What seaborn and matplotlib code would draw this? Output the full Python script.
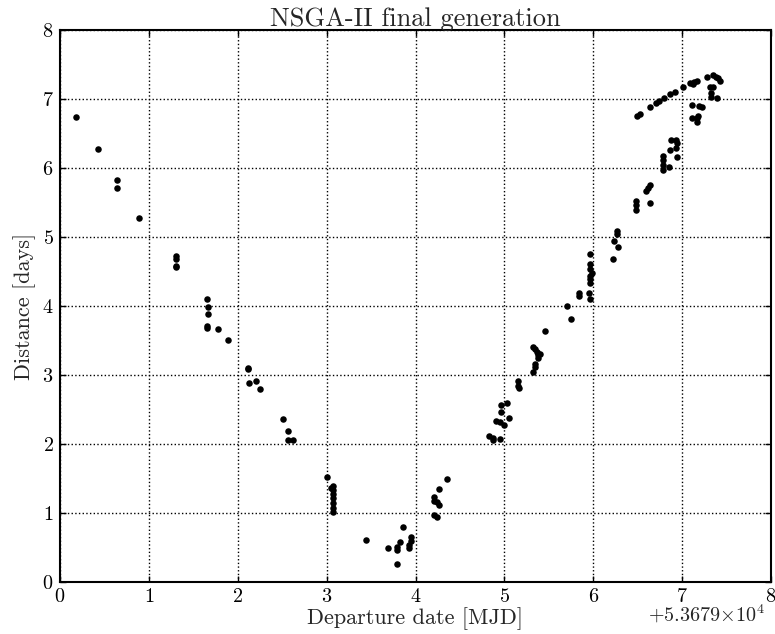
import matplotlib
matplotlib.use("Agg")
import matplotlib.pyplot as plt
import seaborn as sns
import pandas as pd
import numpy as np

# Departure date offset (MJD) and relative departure dates
date_offset = 53679.0
departure = [
    0.176, 0.424, 0.637, 0.637, 0.892, 1.308, 1.308, 1.308, 1.308,
    1.650, 1.668, 1.668, 1.654, 1.654, 1.780, 1.890,
    2.118, 2.118, 2.130, 2.200, 2.250, 2.508, 2.568, 2.568, 2.625,
    3.003, 3.048, 3.075, 3.075, 3.075, 3.075, 3.075, 3.075, 3.075,
    3.438, 3.690, 3.787, 3.787, 3.825, 3.787, 3.855, 3.926, 3.926, 3.945, 3.945,
    4.203, 4.203, 4.245, 4.266, 4.266, 4.353, 4.203, 4.245,
    4.829, 4.867, 4.867, 4.953, 4.904, 4.949, 4.994, 4.964, 4.960, 5.024, 5.050,
    5.155, 5.148, 5.170, 5.317, 5.343, 5.362, 5.403, 5.373, 5.373, 5.339, 5.339, 5.317,
    5.452, 5.710, 5.752, 5.842, 5.842,
    5.962, 5.958, 5.962, 5.988, 5.962, 5.962, 5.962, 5.950, 5.962,
    6.217, 6.235, 6.269, 6.269, 6.273, 6.479, 6.479, 6.479, 6.637,
    6.595, 6.618, 6.637,
    6.786, 6.786, 6.786, 6.786, 6.854, 6.862, 6.873, 6.929, 6.937, 6.929, 6.937,
    6.487, 6.524, 6.637, 6.704, 6.738, 6.794, 6.862, 6.918, 7.011,
    7.087, 7.132, 7.169, 7.124,
    7.281, 7.349, 7.379, 7.405, 7.424, 7.311, 7.342, 7.323, 7.323, 7.398,
    7.109, 7.191, 7.229, 7.184, 7.169, 7.109, 7.162,
]
distance = [
    6.735, 6.275, 5.820, 5.715, 5.270, 4.730, 4.686, 4.585, 4.570,
    4.106, 3.986, 3.880, 3.706, 3.680, 3.667, 3.507,
    3.106, 3.082, 2.884, 2.908, 2.800, 2.367, 2.188, 2.063, 2.063,
    1.522, 1.357, 1.396, 1.333, 1.275, 1.213, 1.149, 1.068, 1.019,
    0.604, 0.493, 0.512, 0.464, 0.575, 0.265, 0.793, 0.536, 0.488, 0.648, 0.599,
    1.237, 1.178, 1.164, 1.116, 1.348, 1.497, 0.966, 0.937,
    2.116, 2.083, 2.058, 2.068, 2.329, 2.319, 2.280, 2.468, 2.570, 2.594, 2.372,
    2.913, 2.840, 2.807, 3.410, 3.372, 3.338, 3.300, 3.242, 3.290, 3.164, 3.120, 3.043,
    3.642, 4.000, 3.812, 4.184, 4.145,
    4.754, 4.609, 4.532, 4.483, 4.435, 4.387, 4.338, 4.193, 4.097,
    4.681, 4.946, 5.043, 5.092, 4.860, 5.527, 5.464, 5.391, 5.488,
    5.671, 5.714, 5.758,
    6.174, 6.116, 6.043, 5.971, 6.010, 6.261, 6.406, 6.406, 6.367, 6.285, 6.164,
    6.754, 6.783, 6.879, 6.946, 6.971, 7.014, 7.072, 7.106, 7.178,
    7.228, 7.246, 7.265, 7.217,
    7.323, 7.348, 7.323, 7.300, 7.265, 7.178, 7.170, 7.082, 7.033, 7.019,
    6.909, 6.899, 6.889, 6.754, 6.729, 6.720, 6.667,
]

title = "NSGA-II final generation"
xlabel = "Departure date [MJD]"
ylabel = "Distance [days]"

sns.set_style("ticks")
plt.rcParams["font.family"] = ["cmr10", "DejaVu Serif"]
plt.rcParams["mathtext.fontset"] = "cm"
plt.rcParams["axes.formatter.use_mathtext"] = True
plt.rcParams["axes.unicode_minus"] = False

df = pd.DataFrame({"x": np.array(departure) + date_offset, "y": distance})

fig = plt.figure(figsize=(7.75, 6.34), dpi=100)
ax = fig.add_axes([60 / 775, 52 / 634, 711 / 775, 552 / 634])

sns.scatterplot(data=df, x="x", y="y", ax=ax, color="black", s=22,
                edgecolor="black", linewidth=0, zorder=3)

ax.set_xlim(date_offset, date_offset + 8)
ax.set_ylim(0, 8)
ax.set_xticks(date_offset + np.arange(0, 9))
ax.set_yticks(np.arange(0, 9))
ax.ticklabel_format(axis="x", useOffset=date_offset, useMathText=True)

ax.grid(True, color="black", linestyle=":", linewidth=1.0)
for s in ax.spines.values():
    s.set_visible(True)
    s.set_linewidth(1.5)
    s.set_color("black")

ax.tick_params(direction="in", length=4, width=1, top=True, right=True,
               labelsize=14.5, pad=4.5, colors="black")

ax.set_title(title, fontsize=19, pad=3)
ax.set_xlabel(xlabel, fontsize=16, labelpad=0.5)
ax.set_ylabel(ylabel, fontsize=16, labelpad=4)

# Offset text drawn on the x-label line, right-aligned near the axes edge
ax.xaxis.get_offset_text().set_visible(False)
exp = int(np.floor(np.log10(date_offset)))
offset_str = r"$+%.4f{\times}10^{%d}$" % (date_offset / 10 ** exp, exp)
fig.text(765 / 775, 12 / 634, offset_str, ha="right", va="baseline", fontsize=14.5)

fig.savefig("out.png", dpi=100)
